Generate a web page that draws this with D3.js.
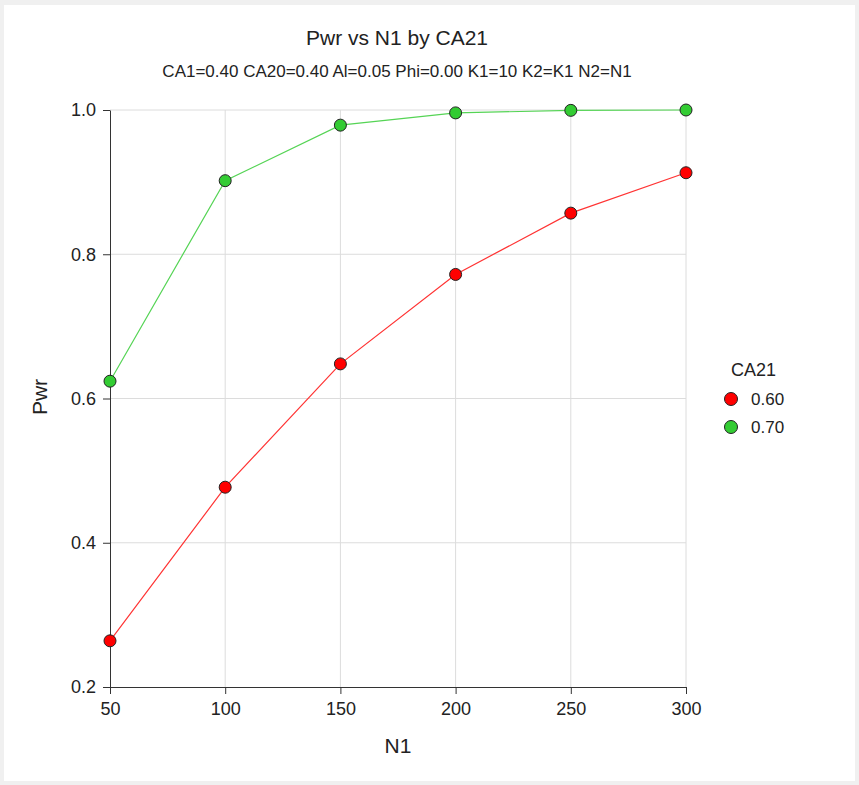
<!DOCTYPE html>
<html><head><meta charset="utf-8">
<script src="https://cdn.jsdelivr.net/npm/d3@7"></script>
<style>body{margin:0;background:#f0f0f0;font-family:Arial,"Liberation Sans",sans-serif;}</style>
</head><body>
<svg id="c" width="859" height="785"></svg>
<script>
const n1 = [50, 100, 150, 200, 250, 300];
const ca21Levels = ["0.60", "0.70"];
const pwr060 = [0.264, 0.477, 0.648, 0.772, 0.857, 0.913];
const pwr070 = [0.624, 0.902, 0.979, 0.996, 0.9995, 1.0];
const xTicks = [50, 100, 150, 200, 250, 300];
const yTicks = [0.2, 0.4, 0.6, 0.8, 1.0];
const colors = ["#ff0000", "#33cc33"];
const lineColors = ["#ff3333", "#55d455"];
const FONT = "Arial,'Liberation Sans',sans-serif";

const svg = d3.select("#c").attr("font-family", FONT);
svg.append("rect").attr("x",4).attr("y",5).attr("width",851).attr("height",776).attr("fill","#fff");
const x = d3.scaleLinear().domain([50,300]).range([110,686]);
const y = d3.scaleLinear().domain([0.2,1.0]).range([687,110]);

// grid
svg.append("g").selectAll("line").data(xTicks.slice(1)).join("line")
  .attr("x1",d=>x(d)).attr("x2",d=>x(d)).attr("y1",110).attr("y2",687)
  .attr("stroke","#dcdcdc").attr("stroke-width",1);
svg.append("g").selectAll("line").data(yTicks.slice(1)).join("line")
  .attr("x1",110).attr("x2",686).attr("y1",d=>y(d)).attr("y2",d=>y(d))
  .attr("stroke","#dcdcdc").attr("stroke-width",1);

const xa = svg.append("g").attr("transform","translate(0,687)")
  .call(d3.axisBottom(x).tickValues(xTicks).tickSize(7).tickPadding(8).tickSizeOuter(0).tickFormat(d3.format("d")));
const ya = svg.append("g").attr("transform","translate(110,0)")
  .call(d3.axisLeft(y).tickValues(yTicks).tickSize(7).tickPadding(7).tickSizeOuter(0).tickFormat(d3.format(".1f")));
[xa,ya].forEach(a=>{
  a.attr("font-family", FONT).attr("font-size", 18);
  a.selectAll("path,line").attr("stroke","#333");
  a.selectAll("text").attr("fill","#222");
});

const series = [pwr060, pwr070];
const line = d3.line().x((d,i)=>x(n1[i])).y(d=>y(d));
series.forEach((s,k)=>{
  svg.append("path").datum(s).attr("d",line).attr("fill","none").attr("stroke",lineColors[k]).attr("stroke-width",1.2);
});
series.forEach((s,k)=>{
  svg.append("g").selectAll("circle").data(s).join("circle")
    .attr("cx",(d,i)=>x(n1[i])).attr("cy",d=>y(d)).attr("r",6)
    .attr("fill",colors[k]).attr("stroke","#222").attr("stroke-width",1);
});

svg.append("text").attr("x",397).attr("y",45).attr("text-anchor","middle").attr("font-size","21px").attr("fill","#222").text("Pwr vs N1 by CA21");
svg.append("text").attr("x",397).attr("y",77).attr("text-anchor","middle").attr("font-size","17px").attr("fill","#222").text("CA1=0.40 CA20=0.40 Al=0.05 Phi=0.00 K1=10 K2=K1 N2=N1");
svg.append("text").attr("x",398).attr("y",753).attr("text-anchor","middle").attr("font-size","21px").attr("fill","#222").text("N1");
svg.append("text").attr("transform","translate(47,397) rotate(-90)").attr("text-anchor","middle").attr("font-size","21px").attr("fill","#222").text("Pwr");

svg.append("text").attr("x",731).attr("y",376).attr("font-size","18px").attr("fill","#222").text("CA21");
ca21Levels.forEach((lv,k)=>{
  const yy = 399 + k*28;
  svg.append("circle").attr("cx",731).attr("cy",yy).attr("r",6.5).attr("fill",colors[k]).attr("stroke","#222");
  svg.append("text").attr("x",751).attr("y",yy+6).attr("font-size","17px").attr("fill","#222").text(lv);
});
</script>
</body></html>
